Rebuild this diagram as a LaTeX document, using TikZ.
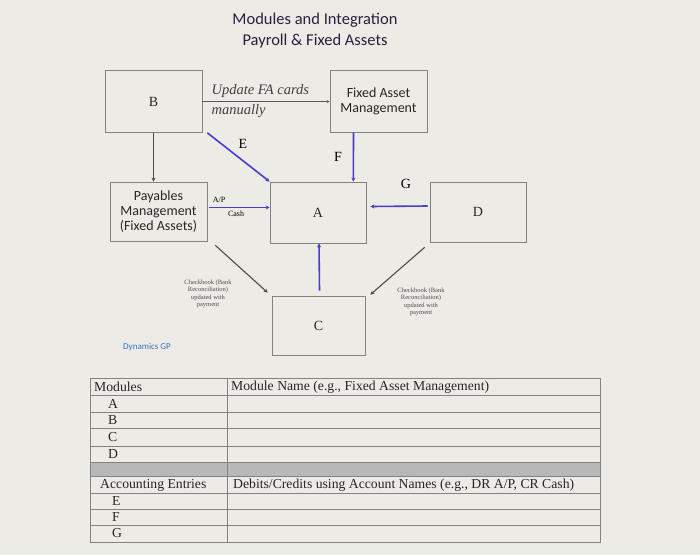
\documentclass[tikz,border=0pt]{standalone}
\usepackage{fontspec}
\setmainfont{Liberation Serif}
\newfontfamily\calib{Carlito}
\usetikzlibrary{calc}
\usetikzlibrary{arrows.meta}
\definecolor{paper}{RGB}{236,235,230}
\definecolor{boxline}{RGB}{130,130,130}
\definecolor{link}{RGB}{72,62,205}
\definecolor{titlecol}{RGB}{38,34,60}
\definecolor{gpblue}{RGB}{60,110,200}
\tikzset{
  module/.style={draw=boxline, line width=0.7pt, inner sep=0pt, minimum width=97pt, minimum height=62pt, align=center, text=black!85, font=\fontsize{14}{14}\selectfont},
  sansbox/.style={font=\calib\fontsize{14}{15}\selectfont},
  blueline/.style={draw=link, line width=1.6pt, -{Stealth[length=4pt,width=4pt]}},
  grayline/.style={draw=black!70, line width=1.1pt, -{Stealth[length=4pt,width=4pt]}},
  checknote/.style={font=\fontsize{6.5}{7.6}\selectfont, text=black!70, align=center},
  cell/.style={anchor=west, inner sep=0pt, text=black!85, font=\fontsize{13.7}{14}\selectfont},
}
\begin{document}
\begin{tikzpicture}[x=1pt,y=-1pt]
\fill[paper] (0,0) rectangle (700,555);
\useasboundingbox (0,0) rectangle (700,555);
\node[align=center, text=titlecol, font=\calib\fontsize{16.5}{21}\selectfont] (title) at (315,31) {Modules and Integration\\Payroll \& Fixed Assets};

\node[module] (B) at (153.5,101.5) {B};
\node[module, sansbox] (FAM) at (378.5,101) {Fixed Asset\\Management};
\node[module, sansbox, minimum height=59pt] (PM) at (158.5,211.5) {Payables\\Management\\(Fixed Assets)};
\node[module, minimum width=96pt, minimum height=61pt] (A) at (318,212.5) {A};
\node[module, minimum width=96pt, minimum height=60pt] (D) at (478,212) {D};
\node[module, minimum width=93pt, minimum height=59pt] (C) at (318.5,325.5) {C};

\draw[black!65, line width=0.6pt, -{Stealth[length=3pt,width=3pt]}] (B.east) -- (B.east -| FAM.west);
\node[anchor=west, text=black!75, font=\itshape\fontsize{14.5}{15}\selectfont] (upd1) at (208,91) {Update FA cards};
\node[anchor=west, text=black!75, font=\itshape\fontsize{14.5}{15}\selectfont] (upd2) at (208,111) {manually};
\draw[grayline] (B.south) -- (B.south |- PM.north);

\draw[blueline] ($(B.south east)+(5,0)$) -- (A.north west);
\node[font=\fontsize{14}{14}\selectfont] (lblE) at (243,144) {E};
\draw[blueline] ($(FAM.south)+(-25,0)$) -- ($(A.north east)+(-13,0)$);
\node[font=\fontsize{14}{14}\selectfont] (lblF) at (338,157) {F};
\draw[blueline] ($(PM.east)+(2,-4)$) -- ($(A.west)+(0,-5)$);
\node[font=\fontsize{8}{8}\selectfont] (lblAP) at (219,200) {A/P};
\node[font=\fontsize{8}{8}\selectfont] (lblCash) at (236,214) {Cash};
\draw[blueline] ($(D.west)+(-2,-6)$) -- ($(A.east)+(4,-6)$);
\node[font=\fontsize{14}{14}\selectfont] (lblG) at (406,184) {G};
\draw[blueline] ($(C.north)+(1,-5)$) -- ($(A.south)+(1,0)$);

\draw[grayline] ($(PM.south east)+(8,4)$) -- ($(C.north west)+(-4,-3)$);
\draw[grayline] ($(D.south west)+(-5,5)$) -- ($(C.north east)+(5,-1)$);
\node[checknote] (chkL) at (208,294) {Checkbook (Bank\\Reconciliation)\\updated with\\payment};
\node[checknote] (chkR) at (421,302) {Checkbook (Bank\\Reconciliation)\\updated with\\payment};
\node[text=gpblue, font=\calib\fontsize{9}{9}\selectfont] (gp) at (147,347) {Dynamics GP};

\fill[black!28] (90,462) rectangle (600,476);
\draw[boxline] (90,378) rectangle (600,542);
\foreach \y in {395,412,428,446,462,476,493,509,525}
  \draw[boxline] (90,\y) -- (600,\y);
\draw[boxline] (227,378) -- (227,542);
\node[cell] (modhead) at (94,387) {Modules};
\node[cell] (namehead) at (231,387) {Module Name (e.g., Fixed Asset Management)};
\foreach \l/\y in {A/403.5,B/420,C/437,D/454}
  \node[cell] (row\l) at (108,\y) {\l};
\node[cell] (acchead) at (100,485) {Accounting Entries};
\node[cell] (drcrhead) at (233,485) {Debits/Credits using Account Names (e.g., DR A/P, CR Cash)};
\foreach \l/\y in {E/501,F/517,G/533.5}
  \node[cell] (row\l) at (112,\y) {\l};
\end{tikzpicture}
\end{document}
